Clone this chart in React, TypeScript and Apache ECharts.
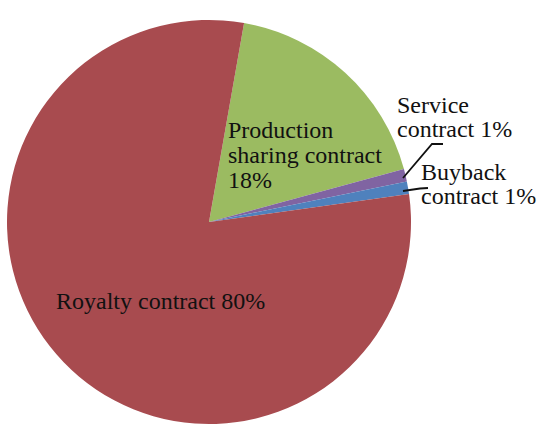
import React, { useEffect, useRef } from 'react';
import * as echarts from 'echarts';

// Data
const categories = ['Production sharing contract', 'Service contract', 'Buyback contract', 'Royalty contract'];
const shares = [18, 1, 1, 80];
const labelTexts = ['Production\nsharing contract\n18%', 'Service\ncontract 1%', 'Buyback\ncontract 1%', 'Royalty contract 80%'];

// Styling / layout
const colors = ['#9BBB61', '#8064A2', '#4F81BD', '#A84B4F'];
const labelAnchors: number[][] = [[228, 155], [397, 117], [421, 184], [56, 301]];
const labelLineHeights = [25, 24, 24, 24];
const leaderLines: (number[][] | null)[] = [
  null,
  [[403, 178], [432, 144], [443, 144]],
  [[403, 191], [420, 188.5], [428, 188]],
  null,
];

export default function App() {
  const ref = useRef<HTMLDivElement>(null);
  useEffect(() => {
    if (!ref.current) return;
    const chart = echarts.init(ref.current, undefined, { renderer: 'svg' });
    const data = categories.map((name, i) => ({
      name,
      value: shares[i],
      itemStyle: { color: colors[i] },
      label: { lineHeight: labelLineHeights[i] },
    }));
    const lines = leaderLines
      .filter((p) => p !== null)
      .map((pts) => ({
        type: 'polyline',
        z: 100,
        shape: { points: pts },
        style: { stroke: '#111111', lineWidth: 1.8, fill: null },
        silent: true,
      }));
    chart.setOption({
      animation: false,
      backgroundColor: '#ffffff',
      graphic: { elements: lines },
      series: [
        {
          type: 'pie',
          center: [209, 222],
          radius: 202,
          startAngle: 80,
          clockwise: true,
          avoidLabelOverlap: false,
          itemStyle: { borderWidth: 0 },
          emphasis: { disabled: true },
          label: {
            show: true,
            position: 'inside',
            formatter: (p: any) => labelTexts[p.dataIndex],
            color: '#111111',
            fontFamily: '"Liberation Serif", "DejaVu Serif", serif',
            fontSize: 24,
            lineHeight: 24,
            align: 'left',
          },
          labelLine: { show: false },
          labelLayout: (params: any) => {
            const i = params.dataIndex;
            return {
              x: labelAnchors[i][0],
              y: labelAnchors[i][1],
              align: 'left',
              verticalAlign: 'middle',
            };
          },
          data,
        },
      ],
    });
    return () => chart.dispose();
  }, []);
  return (
    <div
      ref={ref}
      style={{ position: 'fixed', left: 0, top: 0, width: 540, height: 426, background: '#fff' }}
    />
  );
}
